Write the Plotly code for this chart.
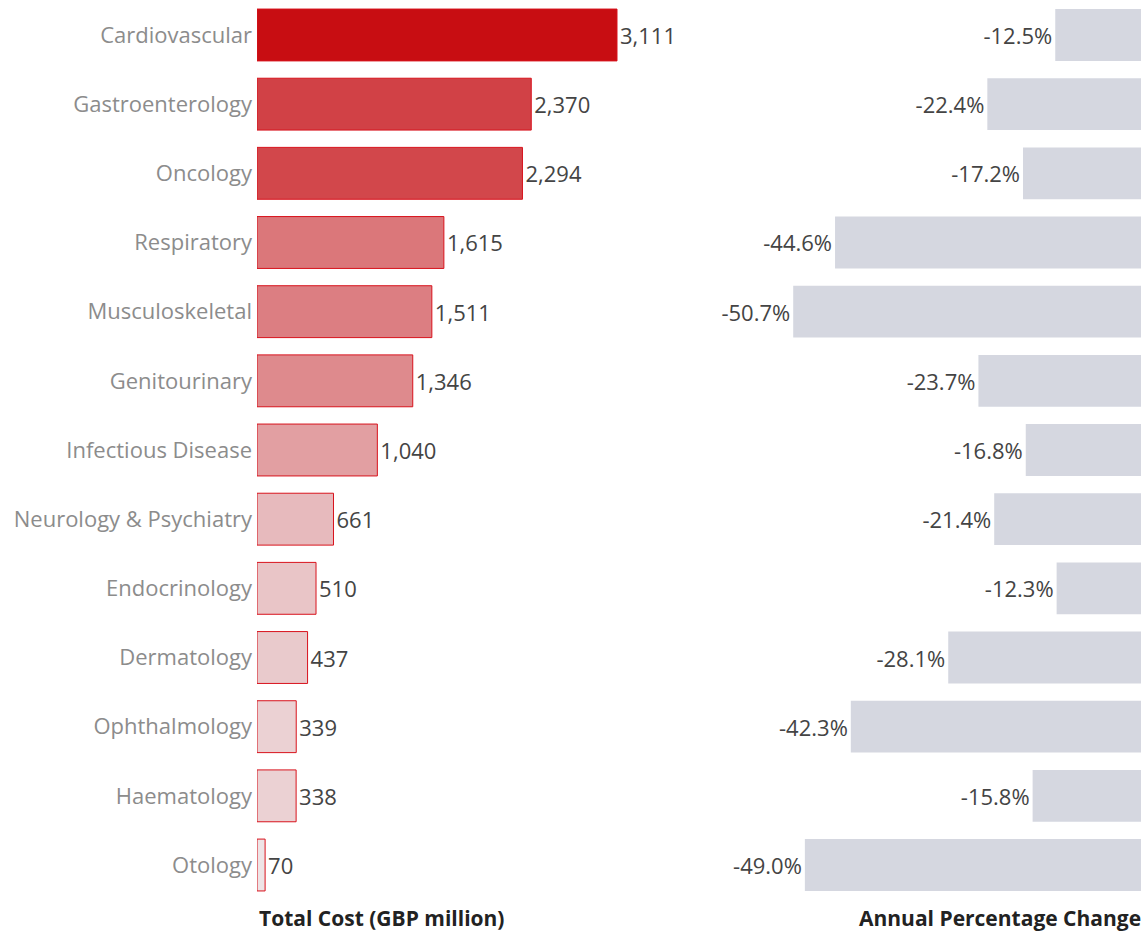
import plotly.graph_objects as go

# Therapy areas, ordered from highest to lowest total cost
categories = [
    "Cardiovascular", "Gastroenterology", "Oncology", "Respiratory",
    "Musculoskeletal", "Genitourinary", "Infectious Disease",
    "Neurology & Psychiatry", "Endocrinology", "Dermatology",
    "Ophthalmology", "Haematology", "Otology",
]
total_cost = [3111, 2370, 2294, 1615, 1511, 1346, 1040, 661, 510, 437, 339, 338, 70]
annual_change = [-12.5, -22.4, -17.2, -44.6, -50.7, -23.7, -16.8, -21.4, -12.3, -28.1, -42.3, -15.8, -49.0]

W, H = 1144, 933
FONT = "Open Sans"

# pixel layout of the two panels
left_x0, left_x1 = 257, 700
cost_px_per_unit = 360.0 / 3111
right_x0, right_x1 = 700, 1141
pct_px_per_unit = 6.86
row_top, row_bottom = 0.4, 899.6

fig = go.Figure()

fig.add_trace(go.Bar(
    y=categories, x=total_cost, orientation="h",
    xaxis="x", yaxis="y",
    marker=dict(
        color=total_cost,
        colorscale=[[0, "#EEE4E6"], [1, "#C80D12"]],
        cmin=min(total_cost), cmax=max(total_cost),
        line=dict(color="#D8121C", width=1),
    ),
    text=[f"{v:,}" for v in total_cost],
    textposition="outside",
    textfont=dict(family=FONT, size=22, color="#444444"),
    cliponaxis=False,
    hoverinfo="skip",
))

fig.add_trace(go.Bar(
    y=categories, x=annual_change, orientation="h",
    xaxis="x2", yaxis="y2",
    marker=dict(color="#D5D7E0", line=dict(width=0)),
    text=[f"{v:.1f}%" for v in annual_change],
    textposition="outside",
    textfont=dict(family=FONT, size=22, color="#444444"),
    cliponaxis=False,
    hoverinfo="skip",
))

ydom = [1 - row_bottom / H, 1 - row_top / H]

fig.update_layout(
    width=W, height=H,
    margin=dict(l=0, r=0, t=0, b=0),
    paper_bgcolor="white", plot_bgcolor="white",
    showlegend=False,
    bargap=0.25,
    font=dict(family=FONT),
    xaxis=dict(
        domain=[left_x0 / W, left_x1 / W],
        range=[0, (left_x1 - left_x0) / cost_px_per_unit],
        visible=False, fixedrange=True,
    ),
    yaxis=dict(
        domain=ydom, anchor="x",
        categoryorder="array", categoryarray=categories,
        autorange="reversed",
        showgrid=False, zeroline=False, showline=False, ticks="",
        tickfont=dict(family=FONT, size=22, color="#8C8C8C"),
        automargin=False,
        ticklabelstandoff=4,
    ),
    xaxis2=dict(
        domain=[right_x0 / W, right_x1 / W],
        range=[-(right_x1 - right_x0) / pct_px_per_unit, 0],
        visible=False, fixedrange=True,
    ),
    yaxis2=dict(
        domain=ydom, anchor="x2",
        categoryorder="array", categoryarray=categories,
        autorange="reversed",
        showticklabels=False, showgrid=False, zeroline=False, showline=False, ticks="",
    ),
    annotations=[
        dict(text="<b>Total Cost (GBP million)</b>", xref="paper", yref="paper",
             x=left_x0 / W, y=1 - 918 / H, xanchor="left", yanchor="middle",
             showarrow=False, font=dict(family=FONT, size=21, color="#222222")),
        dict(text="<b>Annual Percentage Change</b>", xref="paper", yref="paper",
             x=1143 / W, y=1 - 918 / H, xanchor="right", yanchor="middle",
             showarrow=False, font=dict(family=FONT, size=21, color="#222222")),
    ],
)

fig.write_html("out.html")
